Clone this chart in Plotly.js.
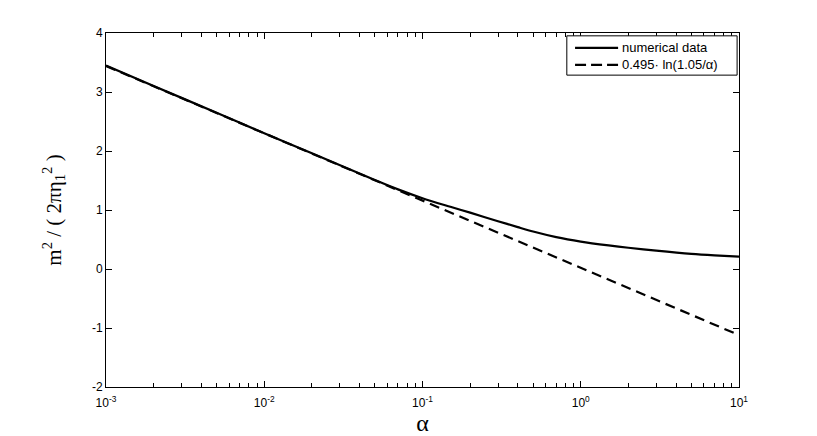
<!DOCTYPE html>
<html>
<head>
<meta charset="utf-8">
<script src="https://cdn.plot.ly/plotly-3.0.1.min.js"></script>
<style>html,body{margin:0;padding:0;background:#fff;}#chart{width:817px;height:436px;}</style>
</head>
<body>
<div id="chart"></div>
<script>
// Numerical data
const alphaNum = [0.001, 0.002, 0.005, 0.01, 0.02, 0.05, 0.07, 0.1, 0.15, 0.2, 0.3, 0.4, 0.5, 0.7, 1, 1.5, 2, 3, 5, 7, 10];
const m2Num    = [3.45, 3.10, 2.65, 2.30, 1.96, 1.51, 1.35, 1.20, 1.055, 0.955, 0.81, 0.71, 0.635, 0.54, 0.465, 0.40, 0.36, 0.31, 0.255, 0.23, 0.21];
// Fit line 0.495·ln(1.05/α)
const alphaFit = [0.001, 0.01, 0.1, 1, 10];
const m2Fit    = [3.44, 2.30, 1.16, 0.02, -1.12];
// Series names
const seriesNames = ['numerical data', '0.495· ln(1.05/α)'];
// Tick labels
const xTickVals = [0.001, 0.01, 0.1, 1, 10];
const xTickText = ['10<sup>-3</sup>', '10<sup>-2</sup>', '10<sup>-1</sup>', '10<sup>0</sup>', '10<sup>1</sup>'];
const yTickVals = [-2, -1, 0, 1, 2, 3, 4];
const yTickText = ['-2', '-1', '0', '1', '2', '3', '4'];

const minorVals = [];
for (let d = -3; d < 1; d++) for (let k = 2; k <= 9; k++) minorVals.push(k * Math.pow(10, d));

const DASH = '10px,6px';
const traces = [
  {x: alphaNum, y: m2Num, type: 'scatter', mode: 'lines', name: seriesNames[0],
   line: {color: '#000', width: 2.2, shape: 'spline', smoothing: 0.8}},
  {x: alphaFit, y: m2Fit, type: 'scatter', mode: 'lines', name: seriesNames[1],
   line: {color: '#000', width: 2.2, dash: DASH}}
];

const sans = 'Liberation Sans, Arial, Helvetica, sans-serif';
const serif = 'Liberation Serif, Times New Roman, serif';

// hand-built MATLAB-style legend box (paper coordinates of the plot area)
const legShapes = [
  {type: 'rect', xref: 'paper', yref: 'paper', x0: 0.728, x1: 0.997, y0: 0.881, y1: 0.992,
   line: {color: '#000', width: 1}, fillcolor: '#fff', layer: 'above'},
  {type: 'line', xref: 'paper', yref: 'paper', x0: 0.741, x1: 0.809, y0: 0.958, y1: 0.958,
   line: {color: '#000', width: 2.2}, layer: 'above'},
  {type: 'line', xref: 'paper', yref: 'paper', x0: 0.741, x1: 0.809, y0: 0.910, y1: 0.910,
   line: {color: '#000', width: 2.2, dash: '11px,5px'}, layer: 'above'}
];
const legAnn = [
  {xref: 'paper', yref: 'paper', x: 0.812, y: 0.958, xanchor: 'left', yanchor: 'middle',
   text: seriesNames[0], showarrow: false, font: {family: sans, size: 13, color: '#000'}},
  {xref: 'paper', yref: 'paper', x: 0.812, y: 0.910, xanchor: 'left', yanchor: 'middle',
   text: seriesNames[1], showarrow: false, font: {family: sans, size: 13, color: '#000'}}
];

const layout = {
  width: 817, height: 436,
  margin: {l: 106, r: 78, t: 33, b: 49},
  paper_bgcolor: '#fff', plot_bgcolor: '#fff',
  font: {family: sans, size: 11, color: '#000'},
  showlegend: false,
  shapes: legShapes,
  annotations: legAnn,
  xaxis: {
    type: 'log', range: [-3, 1],
    tickmode: 'array', tickvals: xTickVals, ticktext: xTickText,
    ticks: 'inside', ticklen: 6, tickcolor: '#000', tickwidth: 1,
    showline: true, linecolor: '#000', linewidth: 1, mirror: 'ticks',
    showgrid: false, zeroline: false, ticklabelstandoff: 5,
    tickfont: {family: sans, size: 12, color: '#000'},
    minor: {tickmode: 'array', tickvals: minorVals, ticks: 'inside', ticklen: 4, tickcolor: '#000', tickwidth: 1, showgrid: false},
    title: {text: 'α', font: {family: serif, size: 24, color: '#000'}, standoff: 0}
  },
  yaxis: {
    range: [-2, 4],
    tickmode: 'array', tickvals: yTickVals, ticktext: yTickText,
    ticks: 'inside', ticklen: 6, tickcolor: '#000', tickwidth: 1,
    showline: true, linecolor: '#000', linewidth: 1, mirror: 'ticks',
    showgrid: false, zeroline: false,
    tickfont: {family: sans, size: 12, color: '#000'},
    title: {text: 'm<sup>2</sup> / ( 2πη<sub>1</sub><sup>2</sup> )', font: {family: serif, size: 21, color: '#000'}, standoff: 24}
  }
};

Plotly.newPlot('chart', traces, layout, {displayModeBar: false, staticPlot: true});
</script>
</body>
</html>
